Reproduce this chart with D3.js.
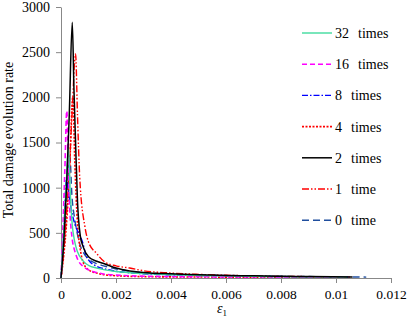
<!DOCTYPE html>
<html>
<head>
<meta charset="utf-8">
<script src="https://cdn.jsdelivr.net/npm/d3@7"></script>
<style>
  body { margin: 0; background: #fff; }
  svg text { font-family: "Liberation Serif", "Times New Roman", serif; fill: #000; }
</style>
</head>
<body>
<svg id="chart" width="408" height="318" font-family="Liberation Serif"></svg>
<script>
// tick labels
var xTicks = [0, 0.002, 0.004, 0.006, 0.008, 0.01, 0.012];
var xTickLabels = ["0", "0.002", "0.004", "0.006", "0.008", "0.01", "0.012"];
var yTicks = [0, 500, 1000, 1500, 2000, 2500, 3000];

// series (strain eps1, damage evolution rate)
var eps32 = [0, 0.0001, 0.0002, 0.00027, 0.00033, 0.0004, 0.0005, 0.0006, 0.0008, 0.001, 0.0013, 0.0016, 0.002, 0.0025, 0.003, 0.004, 0.005, 0.006, 0.007, 0.008, 0.009, 0.0104];
var val32 = [0, 500, 1100, 1450, 1000, 620, 400, 290, 190, 140, 110, 90, 72, 58, 48, 36, 28, 23, 19, 16, 13, 11];

var eps16 = [0, 0.00007, 0.00014, 0.00021, 0.00027, 0.00033, 0.0004, 0.0005, 0.0006, 0.0008, 0.001, 0.0013, 0.0016, 0.002, 0.0025, 0.003, 0.004, 0.005, 0.006, 0.007, 0.008, 0.009, 0.0103];
var val16 = [0, 550, 1200, 1850, 1150, 700, 450, 300, 210, 130, 90, 60, 42, 32, 24, 20, 16, 14, 12, 11, 10, 9, 8];

var eps8 = [0, 0.0001, 0.0002, 0.0003, 0.0004, 0.0005, 0.0006, 0.0007, 0.0008, 0.0009, 0.001, 0.0013, 0.0016, 0.002, 0.0025, 0.003, 0.004, 0.005, 0.006, 0.007, 0.008, 0.009, 0.0105];
var val8 = [0, 500, 1100, 900, 720, 600, 520, 460, 380, 260, 200, 130, 100, 75, 58, 47, 35, 28, 23, 19, 16, 14, 11];

var eps4 = [0, 0.0001, 0.0002, 0.0003, 0.00043, 0.0005, 0.0006, 0.0007, 0.0008, 0.001, 0.0013, 0.0016, 0.002, 0.0025, 0.003, 0.004, 0.005, 0.006, 0.007, 0.008, 0.009, 0.0104];
var val4 = [0, 250, 600, 1100, 2000, 1300, 600, 320, 180, 90, 55, 35, 25, 18, 15, 12, 11, 10, 10, 9, 9, 8];

var eps2 = [0, 0.0001, 0.0002, 0.0003, 0.00041, 0.00047, 0.00053, 0.0006, 0.0007, 0.0008, 0.001, 0.0013, 0.0016, 0.002, 0.0025, 0.003, 0.004, 0.005, 0.006, 0.007, 0.008, 0.009, 0.0106];
var val2 = [0, 400, 1000, 1800, 2830, 2100, 1500, 850, 470, 350, 235, 185, 155, 110, 78, 62, 46, 36, 29, 24, 19, 16, 12];

var eps1 = [0, 0.0001, 0.0002, 0.0003, 0.0004, 0.00053, 0.0006, 0.00068, 0.00087, 0.001, 0.0013, 0.0016, 0.002, 0.0025, 0.003, 0.004, 0.005, 0.006, 0.007, 0.008, 0.009, 0.0105];
var val1 = [0, 300, 700, 1200, 1800, 2480, 1800, 1120, 567, 400, 270, 175, 135, 110, 80, 55, 40, 30, 24, 19, 15, 11];

var eps0 = [0, 0.0001, 0.0002, 0.00032, 0.0004, 0.0005, 0.0006, 0.0007, 0.0008, 0.001, 0.0013, 0.0016, 0.002, 0.0025, 0.003, 0.004, 0.005, 0.006, 0.007, 0.008, 0.009, 0.01, 0.0111];
var val0 = [0, 350, 800, 1350, 900, 650, 480, 360, 290, 210, 160, 130, 100, 75, 60, 44, 34, 28, 23, 19, 16, 13, 10];

var seriesNames = ["32", "16", "8", "4", "2", "1", "0"];
var seriesWords = ["times", "times", "times", "times", "times", "time", "time"];

var styles = {
    "32": {color: "#3fdc9e", dash: null, width: 1.4},
    "16": {color: "#ff00ff", dash: "5,3", width: 1.6},
    "8": {color: "#0000ff", dash: "6,2,1.5,2", width: 1.4},
    "4": {color: "#ff0000", dash: "2,1.5", width: 1.6},
    "2": {color: "#000000", dash: null, width: 1.5},
    "1": {color: "#ff0000", dash: "7,2,1.5,2,1.5,2", width: 1.4},
    "0": {color: "#1f4e9e", dash: "7,4", width: 1.4}
};

var seriesData = {
    "32": d3.zip(eps32, val32),
    "16": d3.zip(eps16, val16),
    "8": d3.zip(eps8, val8),
    "4": d3.zip(eps4, val4),
    "2": d3.zip(eps2, val2),
    "1": d3.zip(eps1, val1),
    "0": d3.zip(eps0, val0)
};

var margin = {top: 7, left: 61};
var width = 330, height = 271;
var serif = "Liberation Serif";

var svg = d3.select("#chart");
var figure = svg.append("g")
    .attr("transform", "translate(" + margin.left + "," + margin.top + ")");

var x = d3.scaleLinear().domain([0, 0.012]).range([0, width]);
var y = d3.scaleLinear().domain([0, 3000]).range([height, 0]);

var xAxis = figure.append("g")
    .attr("transform", "translate(0," + height + ")")
    .call(d3.axisBottom(x)
        .tickValues(xTicks)
        .tickFormat(function(d, i){ return xTickLabels[i]; })
        .tickSize(5)
        .tickSizeOuter(0)
        .tickPadding(6));

var yAxis = figure.append("g")
    .call(d3.axisLeft(y)
        .tickValues(yTicks)
        .tickFormat(d3.format("d"))
        .tickSize(5)
        .tickSizeOuter(0)
        .tickPadding(6));

[xAxis, yAxis].forEach(function(ax){
    ax.attr("font-family", serif).attr("font-size", 14);
    ax.select(".domain").attr("stroke", "#888");
    ax.selectAll(".tick line").attr("stroke", "#888");
    ax.selectAll(".tick text")
        .attr("fill", "#000")
        .style("font-family", serif)
        .style("font-size", "14px");
});
xAxis.selectAll(".tick text").style("font-size", "13.5px");

var line = d3.line()
    .x(function(d){ return x(d[0]); })
    .y(function(d){ return y(d[1]); })
    .curve(d3.curveMonotoneX);

var drawOrder = ["0", "1", "4", "8", "16", "32", "2"];
drawOrder.forEach(function(key){
    var st = styles[key];
    figure.append("path")
        .datum(seriesData[key])
        .attr("fill", "none")
        .attr("stroke", st.color)
        .attr("stroke-width", st.width)
        .attr("stroke-dasharray", st.dash)
        .attr("d", line);
});

// legend
var legend = svg.append("g").attr("font-family", serif).attr("font-size", 14);
seriesNames.forEach(function(key, i){
    var st = styles[key];
    var ly = 33 + i * 31.2;
    legend.append("line")
        .attr("x1", 302).attr("x2", 332)
        .attr("y1", ly).attr("y2", ly)
        .attr("stroke", st.color)
        .attr("stroke-width", st.width)
        .attr("stroke-dasharray", st.dash);
    legend.append("text")
        .attr("x", 335).attr("y", ly + 5)
        .text(key);
    legend.append("text")
        .attr("x", key.length > 1 ? 358 : 351).attr("y", ly + 5)
        .text(seriesWords[i]);
});

// axis titles
svg.append("text")
    .attr("transform", "translate(13,140) rotate(-90)")
    .attr("text-anchor", "middle")
    .attr("font-family", serif)
    .attr("font-size", 14)
    .text("Total damage evolution rate");

var xt = svg.append("text")
    .attr("x", 222).attr("y", 313)
    .attr("text-anchor", "middle")
    .attr("font-family", serif)
    .attr("font-size", 14);
xt.append("tspan").style("font-style", "italic").text("ε");
xt.append("tspan").attr("dy", 3).attr("font-size", 9).text("1");
</script>
</body>
</html>
